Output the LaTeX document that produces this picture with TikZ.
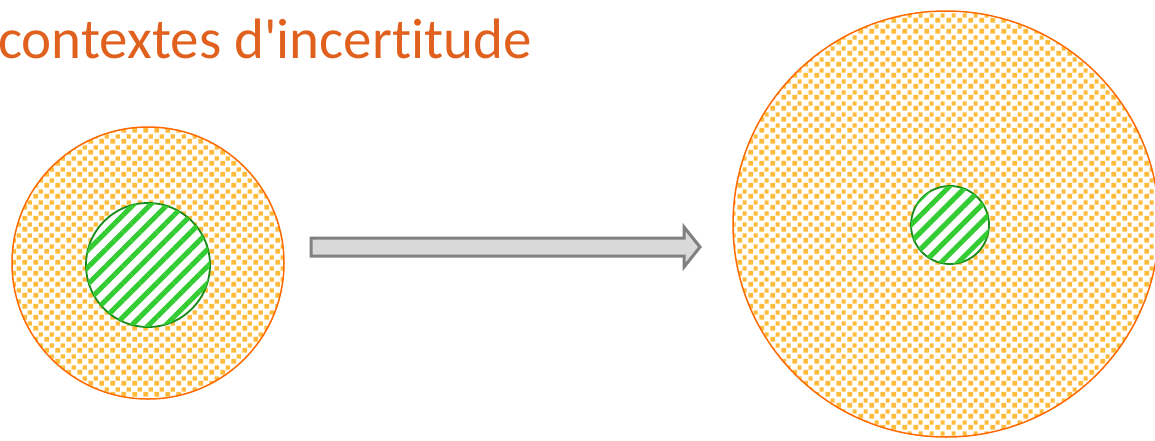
\documentclass[tikz,border=0pt]{standalone}
\usepackage{fontspec}
\newfontfamily\titlefont[Ligatures={NoCommon}]{Carlito}
\usetikzlibrary{patterns,patterns.meta}
\definecolor{titlecol}{HTML}{E0601E}
\definecolor{dotcol}{HTML}{FFBB3C}
\definecolor{ringcol}{HTML}{FF6A00}
\definecolor{stripecol}{HTML}{33CC33}
\definecolor{gborder}{HTML}{188A18}
\definecolor{arrfill}{HTML}{D9D9D9}
\definecolor{arrdraw}{HTML}{808080}
\pgfdeclarepatterninherentlycolored{orangedots}{\pgfpointorigin}{\pgfqpoint{11pt}{11pt}}{\pgfqpoint{11pt}{11pt}}{%
  \pgfsetfillcolor{dotcol}%
  \pgfpathrectangle{\pgfqpoint{0.3pt}{0.3pt}}{\pgfqpoint{5.4pt}{5.4pt}}%
  \pgfpathrectangle{\pgfqpoint{6.0pt}{5.8pt}}{\pgfqpoint{4.6pt}{4.6pt}}%
  \pgfusepath{fill}%
}
\tikzset{
  outer/.style={draw=ringcol, line width=1.5pt, pattern=orangedots},
  inner/.style={draw=gborder, line width=1.8pt, fill=white,
    postaction={pattern={Lines[angle=45,distance=12pt,line width=5pt]}, pattern color=stripecol}},
  title/.style={text=titlecol, font=\titlefont\fontsize{57}{66}\selectfont, inner sep=0pt, anchor=base west},
  arrowstyle/.style={draw=arrdraw, fill=arrfill, line width=3pt, line join=miter}
}
\begin{document}
\begin{tikzpicture}[x=1pt,y=-1pt]
\useasboundingbox (0,0) rectangle (1155,440);
\node[title] (t) at (-2,58) {contextes d'incertitude};
\node[outer, circle, minimum size=272pt, inner sep=0pt] (L) at (148,263) {};
\node[inner, circle, minimum size=124pt, inner sep=0pt] (Li) at (148,265) {};
\node[outer, circle, minimum size=426pt, inner sep=0pt] (R) at (946,224) {};
\node[inner, circle, minimum size=78pt, inner sep=0pt] (Ri) at (950,225) {};
\filldraw[arrowstyle]
  (311,238) -- (684,238) -- (684,227) -- (700,247) -- (684,267) -- (684,256) -- (311,256) -- cycle;
\end{tikzpicture}
\end{document}
